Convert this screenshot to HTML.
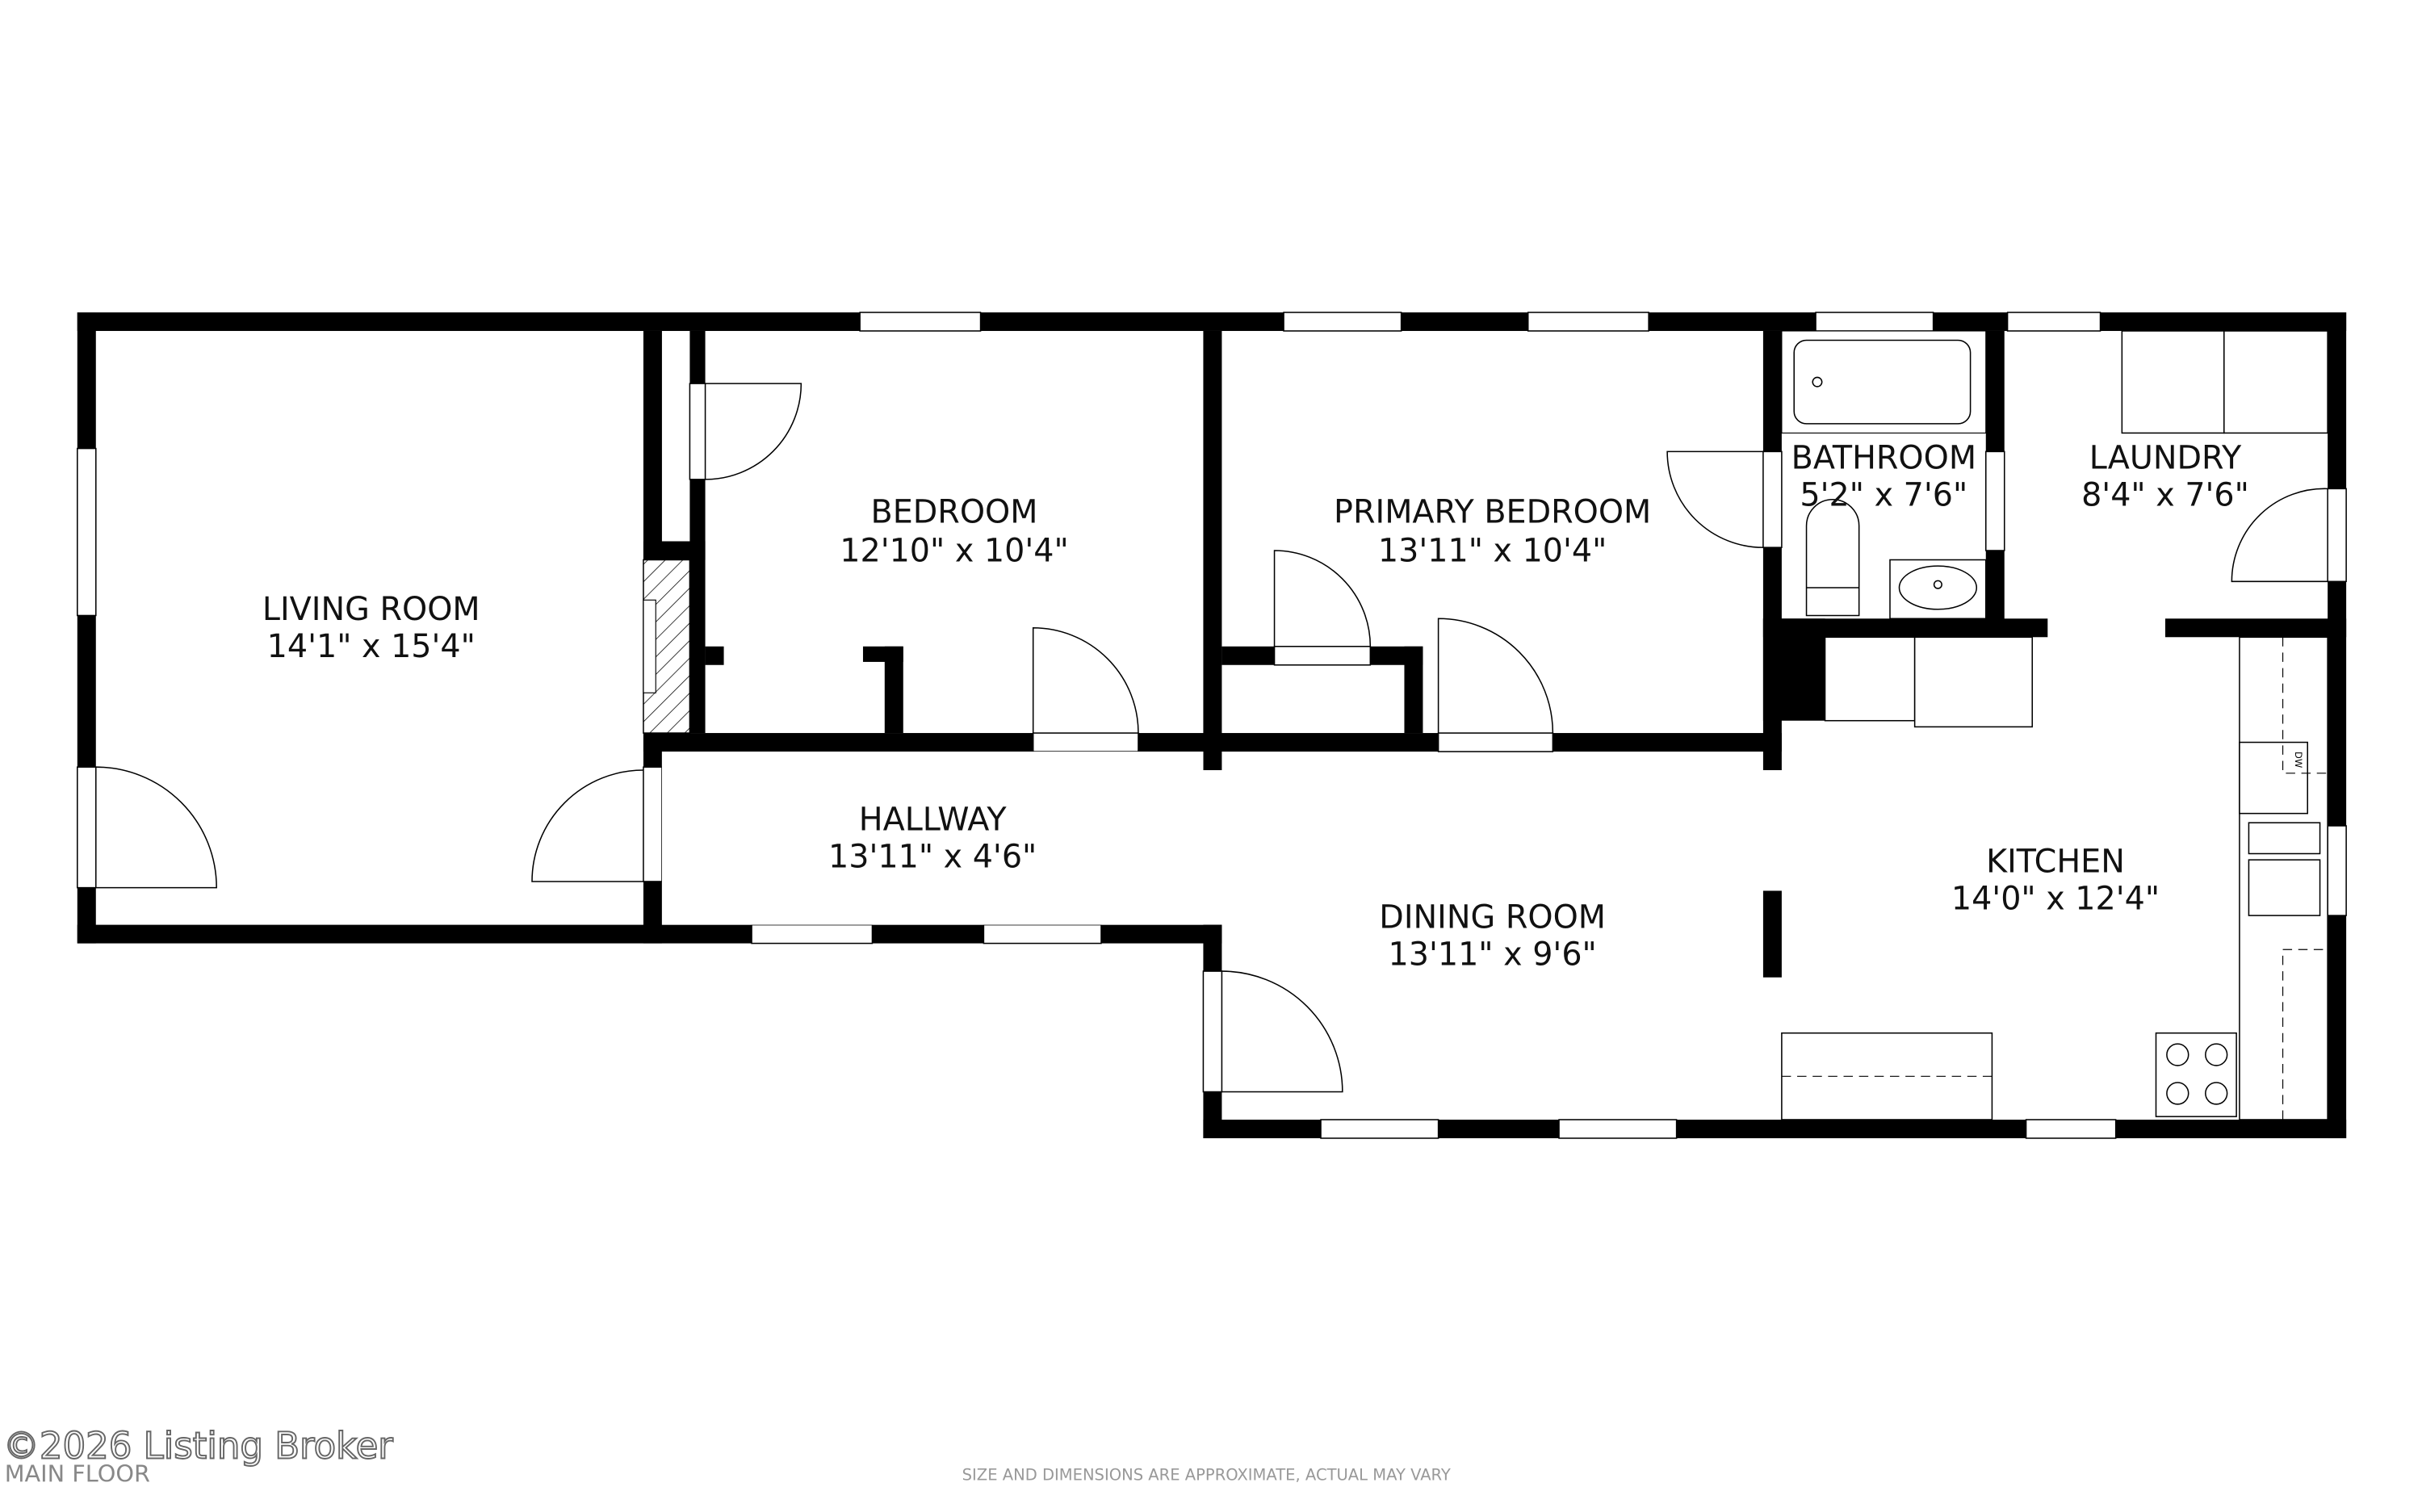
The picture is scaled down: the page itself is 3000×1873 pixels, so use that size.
<!DOCTYPE html>
<html><head><meta charset="utf-8">
<style>
html,body{margin:0;padding:0;background:#fff;}
svg{display:block;}
text{font-family:"DejaVu Sans","Liberation Sans",sans-serif;}
</style></head>
<body>
<svg width="3000" height="1873" viewBox="0 0 1566 977.7" preserveAspectRatio="none" xmlns="http://www.w3.org/2000/svg">
<rect width="1566" height="978" fill="#fff"/>
<defs>
<pattern id="hatch" width="8" height="8" patternUnits="userSpaceOnUse" patternTransform="rotate(45)">
<line x1="0" y1="0" x2="0" y2="8" stroke="#000" stroke-width="0.8"/>
</pattern>
</defs>
<g fill="#000">
<rect x="50" y="202" width="1467" height="12"/>
<rect x="50" y="202" width="12" height="408"/>
<rect x="50" y="598" width="740" height="12"/>
<rect x="1505" y="202" width="12" height="534"/>
<rect x="778" y="724" width="739" height="12"/>
<rect x="778" y="598" width="12" height="138"/>
<rect x="416" y="214" width="12" height="396"/>
<rect x="446" y="214" width="10" height="260"/>
<rect x="416" y="350" width="40" height="12"/>
<rect x="456" y="418" width="12" height="12"/>
<rect x="558" y="418" width="26" height="10"/>
<rect x="572" y="418" width="12" height="56"/>
<rect x="416" y="474" width="736" height="12"/>
<rect x="778" y="214" width="12" height="284"/>
<rect x="790" y="418" width="130" height="12"/>
<rect x="908" y="418" width="12" height="56"/>
<rect x="1140" y="214" width="12" height="284"/>
<rect x="1140" y="400" width="40" height="66"/>
<rect x="1284" y="214" width="12" height="198"/>
<rect x="1140" y="400" width="184" height="12"/>
<rect x="1400" y="400" width="117" height="12"/>
<rect x="1140" y="576" width="12" height="56"/>
</g>
<rect x="416" y="362" width="30" height="112" fill="#fff"/>
<rect x="416" y="362" width="30" height="112" fill="url(#hatch)" stroke="#000" stroke-width="0.8"/>
<rect x="416" y="388" width="8" height="60" fill="#fff" stroke="#000" stroke-width="0.6"/>
<g fill="#fff" stroke="#000" stroke-width="0.8">
<rect x="556" y="202" width="78" height="12"/>
<rect x="830" y="202" width="76" height="12"/>
<rect x="988" y="202" width="78" height="12"/>
<rect x="1174" y="202" width="76" height="12"/>
<rect x="1298" y="202" width="60" height="12"/>
<rect x="50" y="290" width="12" height="108"/>
<rect x="486" y="598" width="78" height="12"/>
<rect x="636" y="598" width="76" height="12"/>
<rect x="854" y="724" width="76" height="12"/>
<rect x="1008" y="724" width="76" height="12"/>
<rect x="1310" y="724" width="58" height="12"/>
<rect x="1505" y="534" width="12" height="58"/>
<rect x="1284" y="292" width="12" height="64"/>
<rect x="50" y="496" width="12" height="78"/>
<rect x="416" y="496" width="12" height="74"/>
<rect x="446" y="248" width="10" height="62"/>
<rect x="668" y="474" width="68" height="12"/>
<rect x="824" y="418" width="62" height="12"/>
<rect x="930" y="474" width="74" height="12"/>
<rect x="1140" y="292" width="12" height="62"/>
<rect x="1505" y="316" width="12" height="60"/>
<rect x="778" y="628" width="12" height="78"/>
</g>
<g fill="#fff">
<rect x="1324" y="400" width="76" height="12"/>
<rect x="428" y="486" width="350" height="112"/>
</g>
<g fill="none" stroke="#000" stroke-width="0.8">
<path d="M62 574 H140 A78 78 0 0 0 62 496"/>
<path d="M416 570 H344 A72 72 0 0 1 416 498"/>
<path d="M456 248 H518 A62 62 0 0 1 456 310"/>
<path d="M668 474 V406 A68 68 0 0 1 736 474"/>
<path d="M824 418 V356 A62 62 0 0 1 886 418"/>
<path d="M930 474 V400 A74 74 0 0 1 1004 474"/>
<path d="M1140 292 H1078 A62 62 0 0 0 1140 354"/>
<path d="M1505 376 H1443 A60 60 0 0 1 1505 316"/>
<path d="M790 706 H868 A78 78 0 0 0 790 628"/>
</g>
<g fill="#fff" stroke="#000" stroke-width="0.8">
<rect x="1152" y="214" width="132" height="66" stroke-width="0.6"/>
<rect x="1160" y="220" width="114" height="54" rx="8"/>
<circle cx="1175" cy="247" r="3"/>
<path d="M1168 340 a17 17 0 0 1 34 0 V398 H1168 Z"/>
<line x1="1168" y1="380" x2="1202" y2="380"/>
<rect x="1222" y="362" width="62" height="38"/>
<ellipse cx="1253" cy="380" rx="25" ry="14"/>
<circle cx="1253" cy="378" r="2.5"/>
<rect x="1372" y="214" width="66" height="66"/>
<rect x="1438" y="214" width="67" height="66"/>
<rect x="1180" y="412" width="58" height="54"/>
<rect x="1238" y="412" width="76" height="58"/>
<rect x="1448" y="412" width="57" height="312"/>
<rect x="1448" y="480" width="44" height="46"/>
<rect x="1454" y="532" width="46" height="20"/>
<rect x="1454" y="556" width="46" height="36"/>
<rect x="1394" y="668" width="52" height="54"/>
<circle cx="1408" cy="682" r="7"/><circle cx="1433" cy="682" r="7"/>
<circle cx="1408" cy="707" r="7"/><circle cx="1433" cy="707" r="7"/>
<rect x="1152" y="668" width="136" height="56"/>
</g>
<g fill="none" stroke="#000" stroke-width="0.6" stroke-dasharray="6 4">
<path d="M1476 412 V500 H1505"/>
<path d="M1476 724 V614 H1505"/>
<line x1="1152" y1="696" x2="1288" y2="696"/>
</g>
<text x="1484" y="486" font-size="6" transform="rotate(90 1484 486)">DW</text>
<g font-size="20.7" text-anchor="middle" fill="#111">
<text x="240" y="401">LIVING ROOM</text><text x="240" y="425">14'1" x 15'4"</text>
<text x="617" y="338">BEDROOM</text><text x="617" y="363">12'10" x 10'4"</text>
<text x="965" y="338">PRIMARY BEDROOM</text><text x="965" y="363">13'11" x 10'4"</text>
<text x="603" y="537">HALLWAY</text><text x="603" y="561">13'11" x 4'6"</text>
<text x="965" y="600">DINING ROOM</text><text x="965" y="624">13'11" x 9'6"</text>
<text x="1329" y="564">KITCHEN</text><text x="1329" y="588">14'0" x 12'4"</text>
<text x="1218" y="303">BATHROOM</text><text x="1218" y="327">5'2" x 7'6"</text>
<text x="1400" y="303">LAUNDRY</text><text x="1400" y="327">8'4" x 7'6"</text>
</g>
<text x="2" y="943" font-size="23.5" fill="#fff" stroke="#666" stroke-width="1">©2026 Listing Broker</text>
<text x="3" y="958" font-size="15" fill="#888">MAIN FLOOR</text>
<text x="780" y="957" font-size="10.2" fill="#999" text-anchor="middle">SIZE AND DIMENSIONS ARE APPROXIMATE, ACTUAL MAY VARY</text>
</svg>
</body></html>
